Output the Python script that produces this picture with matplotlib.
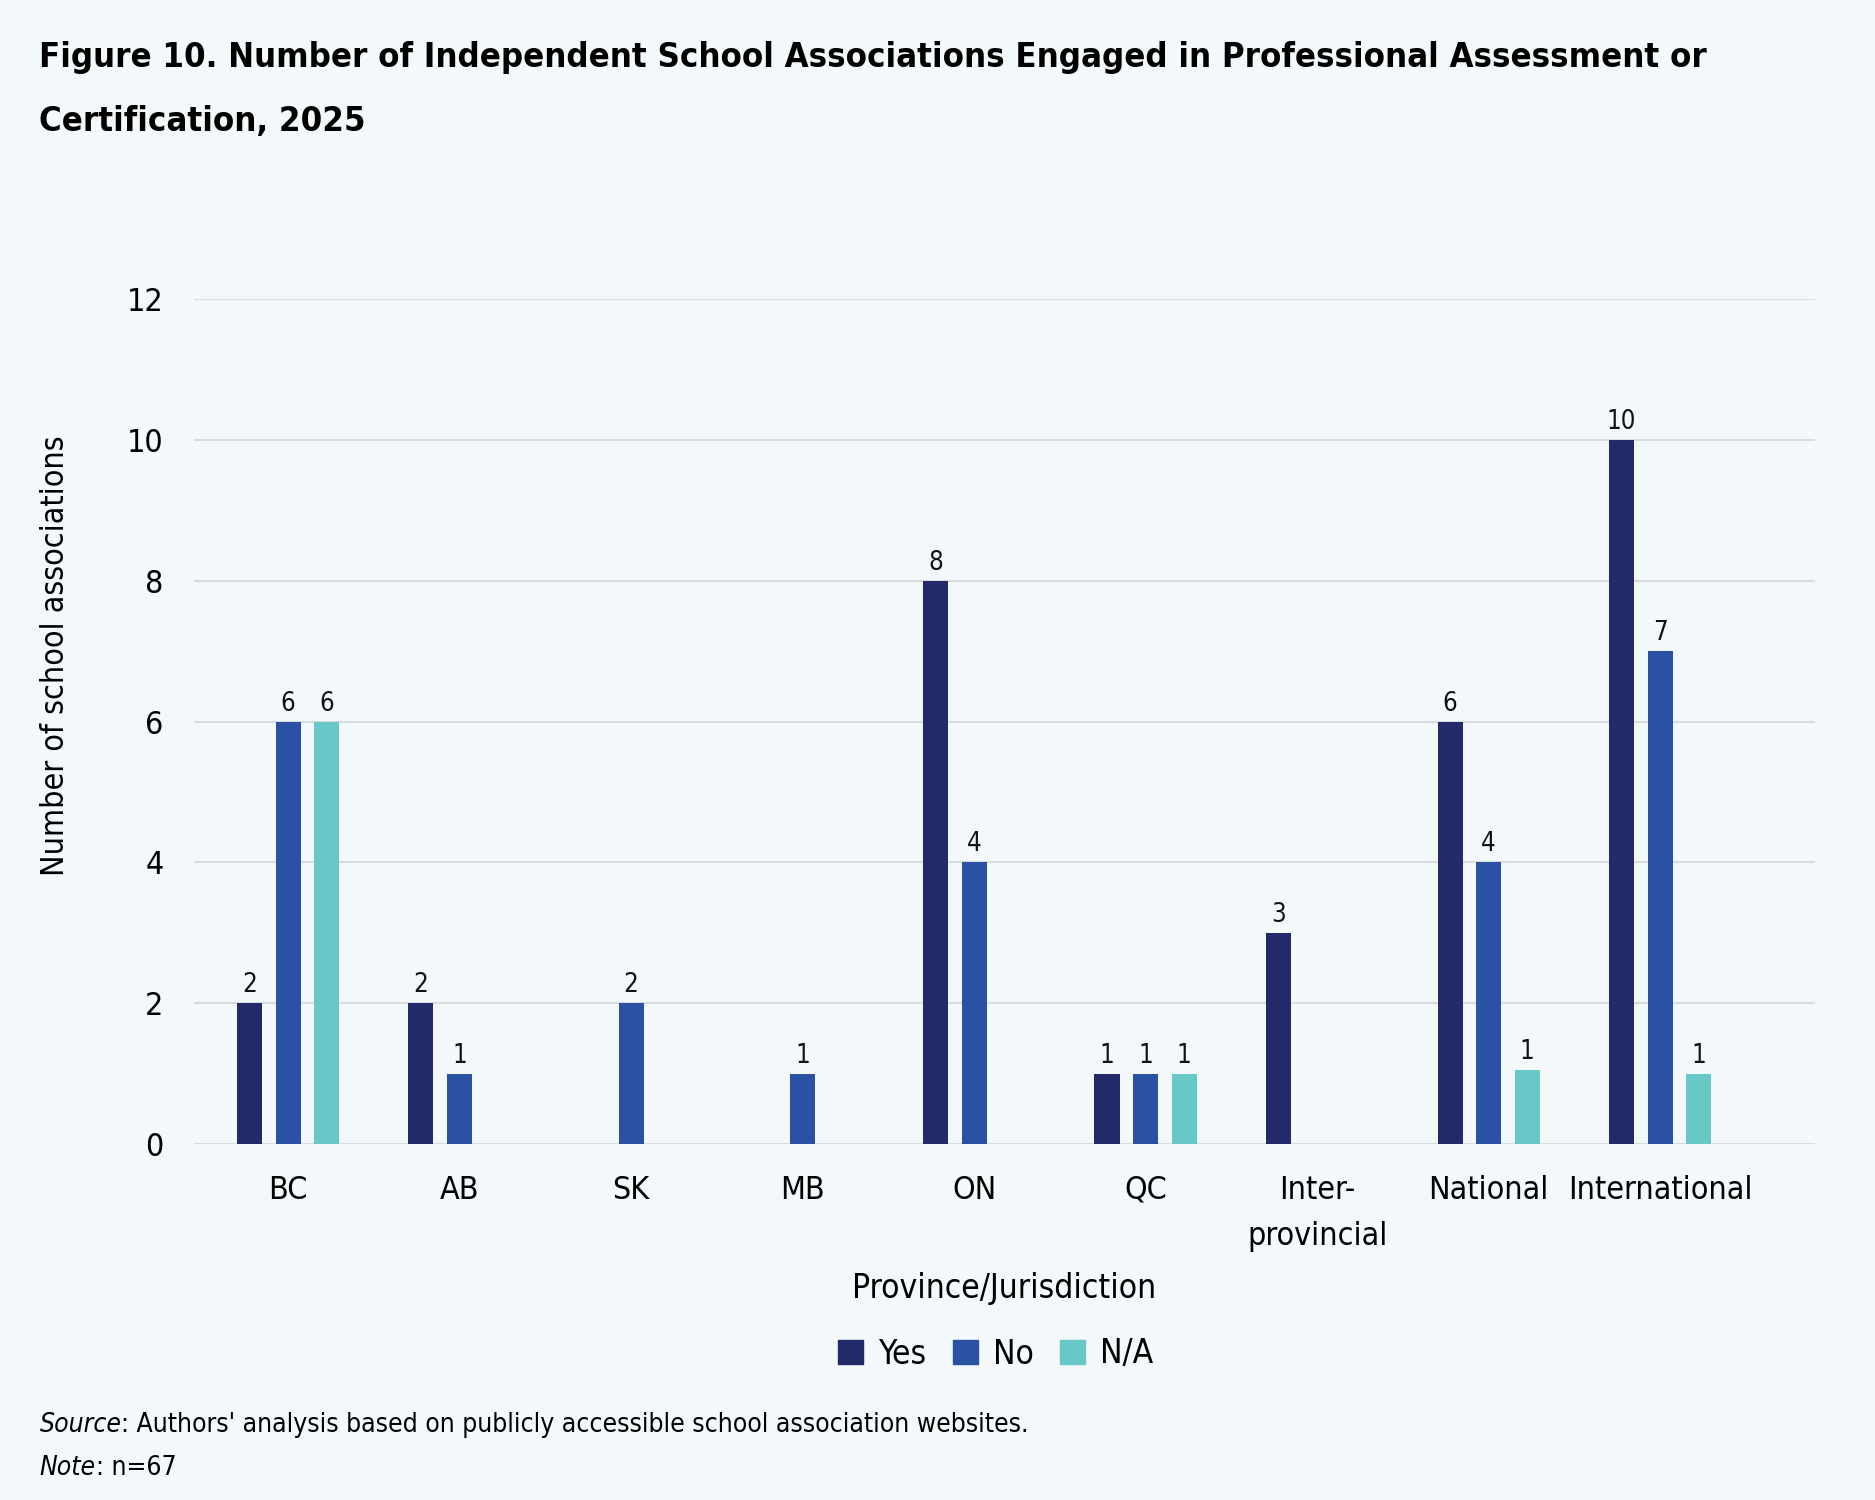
import matplotlib
matplotlib.use('Agg')
import matplotlib.pyplot as plt
from matplotlib.patches import Patch
import numpy as np

# %% data
regions = ['BC', 'AB', 'SK', 'MB', 'ON', 'QC', 'Inter-\nprovincial', 'National', 'International']
yes = [2, 2, 0, 0, 8, 1, 3, 6, 10]
no = [6, 1, 2, 1, 4, 1, 0, 4, 7]
na = [6, 0, 0, 0, 0, 1, 0, 1.05, 1]
series = ['Yes', 'No', 'N/A']
colors = ['#232A69', '#2A51A3', '#67C8C7']
yticks = [0, 2, 4, 6, 8, 10, 12]

# %% style
plt.rcParams['font.family'] = ['DejaVu Sans']
plt.rcParams['font.stretch'] = 'condensed'
bg = '#F3F8FB'

fig = plt.figure(figsize=(18.75, 15), dpi=100, facecolor=bg)
ax = fig.add_axes([0.1035, 0.2373, 0.8645, 0.5634], facecolor=bg)

x = np.arange(len(regions))
w = 0.146
off = 0.225
for i, (vals, name, c) in enumerate(zip([yes, no, na], series, colors)):
    pos = x + (i - 1) * off
    bars = ax.bar(pos, vals, width=w, color=c, label=name, zorder=3)
    for b, v in zip(bars, vals):
        if v > 0:
            ax.text(b.get_x() + b.get_width() / 2, v + 0.07, f'{round(v)}',
                    ha='center', va='bottom', fontsize=18.5, color='#111111')

ax.set_xlim(-0.548, 8.903)
ax.set_ylim(0, 12)
ax.set_yticks(yticks)
ax.set_xticks(x)
ax.set_xticklabels(regions, fontsize=23, linespacing=1.65, va='top')
ax.tick_params(axis='y', labelsize=23, length=0, pad=22)
ax.tick_params(axis='x', length=0, pad=22)
ax.grid(axis='y', color='#D9DCDF', linewidth=1.5, zorder=0)
for s in ax.spines.values():
    s.set_visible(False)

ax.set_xlabel('Province/Jurisdiction', fontsize=24, labelpad=14)
ax.set_ylabel('Number of school associations', fontsize=23)
ax.yaxis.set_label_coords(-0.076, 0.578)

handles = [Patch(color=c, label=n) for c, n in zip(colors, series)]
fig.legend(handles=handles, loc='center', bbox_to_anchor=(0.531, 1 - 1354 / 1500), ncol=3,
           frameon=False, fontsize=24, handlelength=0.75, handleheight=0.75,
           handletextpad=0.45, columnspacing=0.8)

fig.text(0.021, 1 - 57 / 1500, 'Figure 10. Number of Independent School Associations Engaged in Professional Assessment or',
         fontsize=24.8, fontweight='bold', va='center', ha='left')
fig.text(0.021, 1 - 121 / 1500, 'Certification, 2025',
         fontsize=24.8, fontweight='bold', va='center', ha='left')

# italic lead word followed by regular text
fig.canvas.draw()
r = fig.canvas.get_renderer()
for lead, rest, yy in [('Source', ": Authors' analysis based on publicly accessible school association websites.", 1425),
                       ('Note', ': n=67', 1468)]:
    t = fig.text(0.021, 1 - yy / 1500, lead, fontsize=19, fontstyle='italic', va='center', ha='left')
    bb = t.get_window_extent(renderer=r)
    fig.text(bb.x1 / fig.bbox.width, 1 - yy / 1500, rest, fontsize=19, va='center', ha='left')

fig.savefig('out.png', dpi=100, facecolor=bg)
